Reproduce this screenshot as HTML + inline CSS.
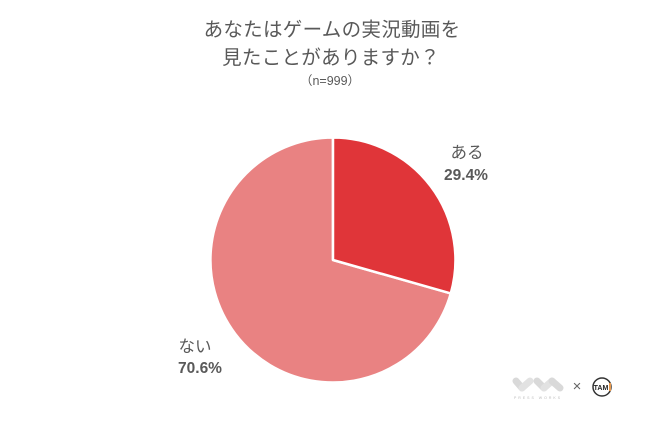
<!DOCTYPE html>
<html><head><meta charset="utf-8"><style>
html,body{margin:0;padding:0;background:#fff;}
body{width:666px;height:428px;overflow:hidden;position:relative;}
svg{position:absolute;left:0;top:0;}
text{font-family:"Liberation Sans","Noto Sans CJK JP",sans-serif;fill:#595959;}
</style></head><body>
<svg width="666" height="428" viewBox="0 0 666 428" xmlns="http://www.w3.org/2000/svg">
<rect width="666" height="428" fill="#fff"/>
<text x="332" y="36" font-size="19.5" text-anchor="middle" letter-spacing="0.3">あなたはゲームの実況動画を</text>
<text x="331" y="64" font-size="19.5" text-anchor="middle" letter-spacing="0.3">見たことがありますか？</text>
<text x="330" y="85" font-size="12.5" text-anchor="middle">（n=999）</text>
<!-- pie -->
<path d="M333,260 L450.8,293.4 A122.5,122.5 0 1,1 333,137.5 Z" fill="#e98282" stroke="#fff" stroke-width="2.5" stroke-linejoin="round"/>
<path d="M333,260 L333,137.5 A122.5,122.5 0 0,1 450.8,293.4 Z" fill="#e03539" stroke="#fff" stroke-width="2.5" stroke-linejoin="round"/>
<text x="467" y="158" font-size="16.5" text-anchor="middle">ある</text>
<text x="466" y="180" font-size="15.5" font-weight="bold" text-anchor="middle">29.4%</text>
<text x="195" y="352" font-size="16.5" text-anchor="middle">ない</text>
<text x="200" y="373" font-size="15.5" font-weight="bold" text-anchor="middle">70.6%</text>
<!-- logos -->
<g opacity="0.55">
<line x1="516" y1="381" x2="522" y2="388" stroke="#bbb" stroke-width="7" stroke-linecap="round"/>
<line x1="522" y1="388" x2="530" y2="381" stroke="#ccc" stroke-width="7" stroke-linecap="round"/>
<line x1="537" y1="381" x2="544" y2="388" stroke="#bbb" stroke-width="7" stroke-linecap="round"/>
<line x1="544" y1="388" x2="552" y2="381" stroke="#ccc" stroke-width="7" stroke-linecap="round"/>
<line x1="552" y1="381" x2="560" y2="388" stroke="#bbb" stroke-width="7" stroke-linecap="round"/>
</g>
<text x="538" y="399" font-size="3.5" text-anchor="middle" style="fill:#bbb" letter-spacing="2">PRESS WORKS</text>
<text x="577" y="391" font-size="15" text-anchor="middle" style="fill:#666">×</text>
<circle cx="602" cy="387" r="9" fill="#fff" stroke="#333" stroke-width="1.5"/>
<text x="601" y="390" font-size="7" font-weight="bold" text-anchor="middle" style="fill:#222">TAM</text>
<rect x="609" y="383" width="2" height="8" fill="#e89a50"/>
</svg>
</body></html>
